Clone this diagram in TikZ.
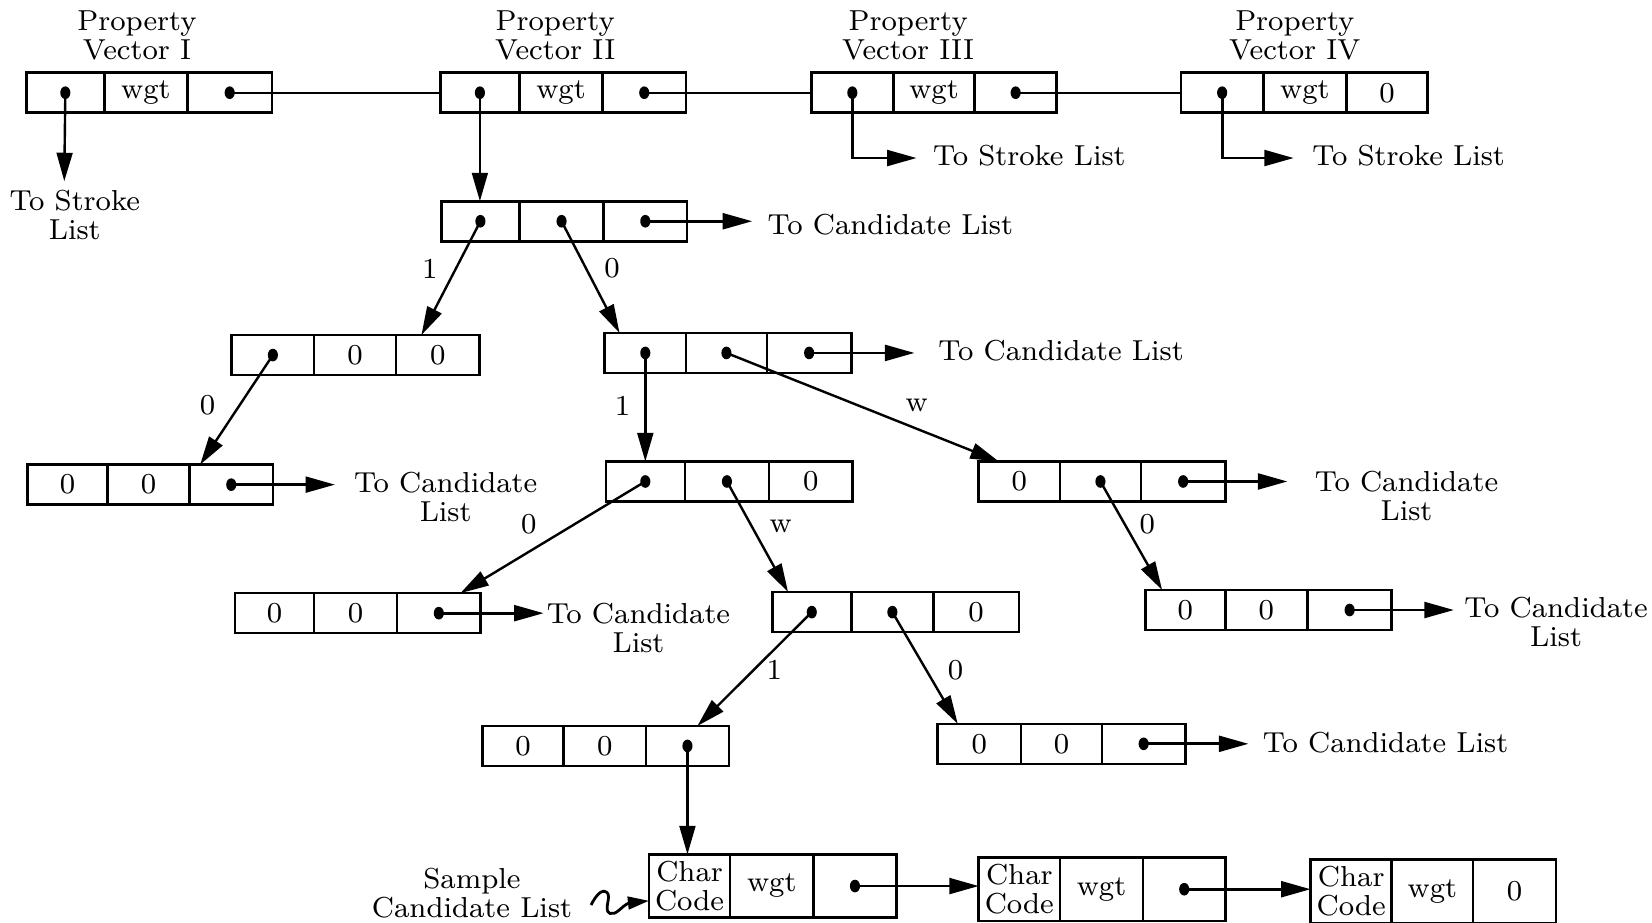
\documentclass[tikz,border=0pt]{standalone}
\usepackage{fontspec}
\usetikzlibrary{arrows.meta}

% typewriter-like spaced serif for all labels
\newcommand\lblfont{\fontsize{7.8}{7.8}\selectfont\addfontfeatures{LetterSpace=6}}

% three-cell list record: name, x0, x1, x2, x3, top, cell texts
\newcommand\rowh{38}
\newcommand\listbox[9]{%
  \pgfmathsetmacro\cwa{(#3-#2)*0.01}%
  \pgfmathsetmacro\cwb{(#4-#3)*0.01}%
  \pgfmathsetmacro\cwc{(#5-#4)*0.01}%
  \pgfmathsetmacro\ch{\rowh*0.01}%
  \pgfmathsetmacro\cy{#6+\rowh/2}%
  \node[cell, minimum width=\cwa cm, minimum height=\ch cm] (#11) at ({(#2+#3)/2},\cy) {#7};%
  \node[cell, minimum width=\cwb cm, minimum height=\ch cm] (#12) at ({(#3+#4)/2},\cy) {#8};%
  \node[cell, minimum width=\cwc cm, minimum height=\ch cm] (#13) at ({(#4+#5)/2},\cy) {#9};%
}
\newcommand\pdot[1]{\fill (#1) ellipse [x radius=0.048cm, y radius=0.06cm];}

\begin{document}
\begin{tikzpicture}[x=0.01cm, y=-0.01cm,
  cell/.style={draw, line width=0.7pt, inner sep=0pt, outer sep=0pt, align=center, font=\lblfont},
  txt/.style={inner sep=0pt, align=center, font=\lblfont},
  link/.style={line width=0.65pt},
  ptr/.style={line width=0.65pt, -{Triangle[length=0.27cm,width=0.15cm]}},
  tolist/.style={line width=0.75pt, -{Triangle[length=0.28cm,width=0.15cm]}},
  squig/.style={line width=0.75pt, -{Triangle[length=0.2cm,width=0.12cm]}},
]
\useasboundingbox (0,0) rectangle (1568,876);

% property vectors
\listbox{P1}{25}{99}{178}{258}{69}{}{wgt}{}
\listbox{P2}{418}{493}{572}{651}{69}{}{wgt}{}
\listbox{P3}{770}{848}{925}{1003}{69}{}{wgt}{}
\listbox{P4}{1121}{1199}{1278}{1355}{69}{}{wgt}{0}

% tree records
\listbox{A}{419}{493}{573}{652}{191}{}{}{}
\listbox{B}{220}{298}{376}{455}{318}{}{0}{0}
\listbox{C}{574}{651}{728}{808}{316}{}{}{}
\listbox{D}{26}{102}{180}{259}{441}{0}{0}{}
\listbox{E}{575}{650}{730}{809}{438}{}{}{0}
\listbox{F}{929}{1006}{1083}{1163}{438}{0}{}{}
\listbox{G}{1087}{1163}{1241}{1321}{560}{0}{0}{}
\listbox{H}{223}{298}{377}{456}{563}{0}{0}{}
\listbox{I}{733}{808}{886}{967}{562}{}{}{0}
\listbox{J}{458}{535}{613}{692}{689}{0}{0}{}
\listbox{K}{890}{969}{1046}{1125}{687}{0}{0}{}

% candidate list records
\renewcommand\rowh{60}
\listbox{CA}{616}{693}{772}{851}{811}{Char\\Code}{wgt}{}
\listbox{CB}{929}{1006}{1085}{1163}{814}{Char\\Code}{wgt}{}
\listbox{CC}{1244}{1321}{1398}{1477}{816}{Char\\Code}{wgt}{0}

% headings and destination labels
\node[txt] (pv1) at (130,34) {Property\\Vector I};
\node[txt] (pv2) at (527,34) {Property\\Vector II};
\node[txt] (pv3) at (862,34) {Property\\Vector III};
\node[txt] (pv4) at (1229,34) {Property\\Vector IV};
\node[txt] (sl1) at (71,204) {To Stroke\\List};
\node[txt, anchor=west] (sl3) at (885,148) {To Stroke List};
\node[txt, anchor=west] (sl4) at (1245,148) {To Stroke List};
\node[txt, anchor=west] (clA) at (728,213) {To Candidate List};
\node[txt, anchor=west] (clC) at (890,333) {To Candidate List};
\node[txt] (clD) at (423,472) {To Candidate\\List};
\node[txt] (clF) at (1335,471) {To Candidate\\List};
\node[txt] (clG) at (1477,590) {To Candidate\\List};
\node[txt] (clH) at (606,596) {To Candidate\\List};
\node[txt, anchor=west] (clK) at (1198,705) {To Candidate List};
\node[txt] (smp) at (448,848) {Sample\\Candidate List};

% branch labels
\node[txt] (b1) at (408,255) {1};
\node[txt] (b2) at (581,255) {0};
\node[txt] (b3) at (197,385) {0};
\node[txt] (b4) at (591,385) {1};
\node[txt] (b5) at (870,385) {w};
\node[txt] (b6) at (502,498) {0};
\node[txt] (b7) at (741,500) {w};
\node[txt] (b8) at (1089,498) {0};
\node[txt] (b9) at (735,636) {1};
\node[txt] (b10) at (907,636) {0};

% free ends of outgoing pointers
\coordinate (s1) at (61,172);
\coordinate (s3) at (870,150);
\coordinate (s4) at (1228,150);
\coordinate (tA) at (714,0);
\coordinate (tC) at (868,0);
\coordinate (tD) at (318,0);
\coordinate (tF) at (1222,0);
\coordinate (tG) at (1380,0);
\coordinate (tH) at (516,0);
\coordinate (tK) at (1185,0);

% chain of property vectors
\draw[link] (P13.center) -- (P21.west);
\draw[link] (P23.center) -- (P31.west);
\draw[link] (P33.center) -- (P41.west);

% stroke list pointers
\draw[ptr] (P11.center) -- (s1);
\draw[tolist] (P31.center) |- (s3);
\draw[tolist] (P41.center) |- (s4);

% tree pointers
\draw[ptr] (P21.center) -- (P21.center |- A1.north);
\draw[ptr] (A1.center) -- ([xshift=-0.155cm]B3.north);
\draw[ptr] (A2.center) -- ([xshift=0.14cm]C1.north west);
\draw[ptr] (B1.center) -- ([xshift=0.10cm]D3.north west);
\draw[ptr] (C1.center) -- (C1.center |- E1.north);
\draw[ptr] (C2.center) -- ([xshift=0.19cm]F1.north west);
\draw[ptr] (F2.center) -- ([xshift=0.16cm]G1.north west);
\draw[ptr] (E1.center) -- ([xshift=-0.19cm]H3.north east);
\draw[ptr] (E2.center) -- ([xshift=0.15cm]I1.north west);
\draw[ptr] (I1.center) -- ([xshift=-0.30cm]J3.north east);
\draw[ptr] (I2.center) -- ([xshift=0.19cm]K1.north west);
\draw[ptr] (J3.center) -- (J3.center |- CA1.north);

% candidate list pointers
\draw[tolist] (A3.center) -- (A3.center -| tA);
\draw[tolist] (C3.center) -- (C3.center -| tC);
\draw[tolist] (D3.center) -- (D3.center -| tD);
\draw[tolist] (F3.center) -- (F3.center -| tF);
\draw[tolist] (G3.center) -- (G3.center -| tG);
\draw[tolist] (H3.center) -- (H3.center -| tH);
\draw[tolist] (K3.center) -- (K3.center -| tK);
\draw[tolist] (CA3.center) -- (CA3.center -| CB1.west);
\draw[tolist] (CB3.center) -- (CB3.center -| CC1.west);

% wavy pointer from the sample caption
\draw[squig] (561,859) .. controls (565,851) and (571,843) .. (576,847)
  .. controls (581,851) and (572,864) .. (579,867)
  .. controls (585,869) and (590,860) .. (597,857) -- ([yshift=-0.14cm]CA1.west);

% pointer dots
\foreach \c in {P11,P13,P21,P23,P31,P33,P41,A1,A2,A3,B1,C1,C2,C3,D3,E1,E2,F2,F3,G3,H3,I1,I2,J3,K3,CA3,CB3}
  {\pdot{\c.center}}
\end{tikzpicture}
\end{document}
